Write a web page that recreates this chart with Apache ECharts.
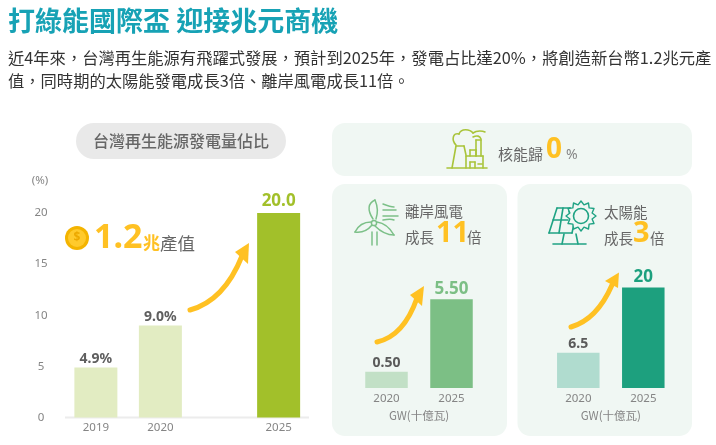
<!DOCTYPE html>
<html><head><meta charset="utf-8">
<style>html,body{margin:0;padding:0;background:#fff}#c{width:716px;height:445px}</style>
<script src="https://cdn.jsdelivr.net/npm/echarts@6/dist/echarts.min.js"></script>
</head><body><div id="c"></div>
<script>
var shareYears = ['2019', '2020', '2025'];
var shareValues = [4.9, 9.0, 20.0];
var shareLabels = ['4.9%', '9.0%', '20.0'];
var shareTicks = [0, 5, 10, 15, 20];
var windYears = ['2020', '2025'];
var windValues = [0.50, 5.50];
var windLabels = ['0.50', '5.50'];
var solarYears = ['2020', '2025'];
var solarValues = [6.5, 20];
var solarLabels = ['6.5', '20'];

var CJK = '"Noto Sans CJK TC","Noto Sans",sans-serif';
var LATIN = '"Noto Sans","Noto Sans CJK TC",sans-serif';
var ORANGE = '#ffc123', GREY = '#666666', AXIS = '#858585';
var PANEL = '#f0f7f3';

// The left chart leaves a wider gap before 2025: blank slots on a category axis.
var slotOf = { '2019': 2, '2020': 8, '2025': 19 }, slotCount = 22;
var shareAxis = [], shareData = [];
for (var s = 0; s < slotCount; s++) { shareAxis.push(''); shareData.push(null); }
shareYears.forEach(function (y, i) {
  shareAxis[slotOf[y]] = y;
  shareData[slotOf[y]] = {
    value: shareValues[i],
    itemStyle: { color: i === 2 ? '#a2c02a' : '#e2ecc2' },
    label: {
      show: true, position: 'top', formatter: shareLabels[i],
      distance: i === 2 ? 3 : 1, fontFamily: LATIN, fontWeight: 'bold',
      fontSize: i === 2 ? 17 : 14, color: i === 2 ? '#a2c02a' : '#5f5f5f'
    }
  };
});

function pairData(values, labels, light, dark) {
  return values.map(function (v, i) {
    return {
      value: v,
      itemStyle: { color: i ? dark : light },
      label: {
        show: true, position: 'top', formatter: labels[i], distance: 2,
        fontFamily: LATIN, fontWeight: 'bold',
        fontSize: i ? 17 : 14, color: i ? dark : '#5a5a5a'
      }
    };
  });
}
// The side panels' hidden axes start below zero; this fills each bar down to the axis floor.
function plinth(xi, floor, light, dark) {
  return {
    type: 'bar', xAxisIndex: xi, yAxisIndex: xi, barWidth: 42.5, barGap: '-100%', silent: true,
    data: [{ value: floor, itemStyle: { color: light } }, { value: floor, itemStyle: { color: dark } }]
  };
}
function catAxis(idx, data, name) {
  return {
    type: 'category', gridIndex: idx, data: data,
    axisLine: { show: false }, axisTick: { show: false },
    axisLabel: { color: AXIS, fontSize: 11.5, fontFamily: LATIN, margin: 5 },
    name: name, nameLocation: 'middle', nameGap: 22,
    nameTextStyle: { color: AXIS, fontSize: 11.5, fontFamily: CJK }
  };
}
function hiddenAxis(idx, min, max) {
  return { type: 'value', gridIndex: idx, min: min, max: max, show: false, splitLine: { show: false } };
}

var g = [];
function rect(x, y, w, h, r, fill) {
  g.push({ type: 'rect', z: -1, shape: { x: x, y: y, width: w, height: h, r: r }, style: { fill: fill } });
}
function text(x, y, t, font, fill, align) {
  g.push({ type: 'text', z: 5, x: x, y: y, style: { text: t, font: font, fill: fill, align: align || 'left', verticalAlign: 'middle' } });
}
// Small "M/L/C" reader that turns icon outlines into line and bezier graphics.
function strokePath(d, color, w) {
  var tok = d.match(/[MLC]|-?[\d.]+/g), i = 0, cx = 0, cy = 0, cmd = '';
  var st = { stroke: color, lineWidth: w, fill: 'none', lineCap: 'round', lineJoin: 'round' };
  function n() { return parseFloat(tok[i++]); }
  while (i < tok.length) {
    if (/[MLC]/.test(tok[i])) cmd = tok[i++];
    if (cmd === 'M') { cx = n(); cy = n(); }
    else if (cmd === 'L') {
      var x = n(), y = n();
      g.push({ type: 'line', z: 6, shape: { x1: cx, y1: cy, x2: x, y2: y }, style: st });
      cx = x; cy = y;
    } else {
      var a = n(), b = n(), c = n(), e = n(), f = n(), h = n();
      g.push({ type: 'bezierCurve', z: 6, shape: { x1: cx, y1: cy, cpx1: a, cpy1: b, cpx2: c, cpy2: e, x2: f, y2: h }, style: st });
      cx = f; cy = h;
    }
  }
}

text(8, 21, '打綠能國際盃 迎接兆元商機', 'bold 27px ' + CJK, '#17a2b5');
text(8, 58, '近4年來，台灣再生能源有飛躍式發展，預計到2025年，發電占比達20%，將創造新台幣1.2兆元產', '16.3px ' + CJK, '#333');
text(8, 81, '值，同時期的太陽能發電成長3倍、離岸風電成長11倍。', '16.3px ' + CJK, '#333');

rect(76, 123, 210, 36, 18, '#e9e9e9');
text(181, 141, '台灣再生能源發電量佔比', '500 16px ' + CJK, GREY, 'center');
text(40, 181, '(%)', '11.5px ' + LATIN, AXIS, 'center');

// panels
rect(332, 123, 360, 53, 13, PANEL);
rect(332, 184, 175, 252, 13, PANEL);
rect(517.5, 184, 174.5, 252, 13, PANEL);

// x axis line of left chart
g.push({ type: 'line', z: 1, shape: { x1: 65, y1: 417.5, x2: 309, y2: 417.5 }, style: { stroke: '#ececec', lineWidth: 2 } });

// coin and 1.2
g.push({ type: 'circle', z: 5, shape: { cx: 77, cy: 238, r: 12 }, style: { fill: '#f4b400' } });
g.push({ type: 'circle', z: 5, shape: { cx: 77, cy: 238, r: 9 }, style: { fill: '#ffca2c' } });
text(77, 238, '$', 'bold 12px ' + LATIN, '#eda900', 'center');
text(94, 238, '1.2', 'bold 34px ' + LATIN, ORANGE);
text(143, 243, '兆', 'bold 17px ' + CJK, ORANGE);
text(160, 243, '產值', '17.5px ' + CJK, GREY);

// side texts
text(498, 154, '核能歸', '15px ' + CJK, GREY);
text(546, 150, '0', 'bold 28px ' + LATIN, ORANGE);
text(566, 155, '%', '14px ' + LATIN, AXIS);
text(405, 211, '離岸風電', '14.5px ' + CJK, GREY);
text(405, 237, '成長', '14.5px ' + CJK, GREY);
text(436, 234, '11', 'bold 29px ' + LATIN, ORANGE);
text(467, 237, '倍', '14.5px ' + CJK, GREY);
text(604, 212, '太陽能', '14.5px ' + CJK, GREY);
text(604, 238, '成長', '14.5px ' + CJK, GREY);
text(633, 234, '3', 'bold 29px ' + LATIN, ORANGE);
text(650, 238, '倍', '14.5px ' + CJK, GREY);

// arrows
function curved(x1, y1, cx1, cy1, cx2, cy2, x2, y2, pts) {
  strokePath('M' + x1 + ' ' + y1 + ' C' + cx1 + ' ' + cy1 + ' ' + cx2 + ' ' + cy2 + ' ' + x2 + ' ' + y2, ORANGE, 5);
  g.push({ type: 'polygon', z: 7, shape: { points: pts }, style: { fill: ORANGE } });
}
curved(190, 310, 212, 304, 230, 286, 242, 256, [[249, 243], [235, 252], [248, 264]]);
curved(377, 342, 395, 338, 408, 324, 417, 298, [[424, 286], [410, 295], [422, 306]]);
curved(571, 327, 588, 322, 602, 308, 612, 285, [[619, 272.5], [605, 281], [618, 288]]);

// factory icon
var F = '#a9c43a';
strokePath('M447 168 L487 168 M452 168 L456 146 L464 146 L466 155 M466 168 L466 156 L483 156 L483 168 M470 168 L470 162 L475 162 L475 168 M478 164 L482 164 M470 156 L470 150 L476 150 L476 156 M476 156 L476 140 L481 140 L481 156', F, 1.6);
strokePath('M456 145 C451 140 453 132 459 134 C461 128 470 129 473 133 C477 130 483 131 485 132 M473 137 C477 135 480 136 481 139', F, 1.6);

// turbine icon
var T = '#7cc088';
strokePath('M372 232 L372 245 M377 232 L377 245', T, 1.5);
strokePath('M373 219 C367 210 368 203 375 200 C378 207 378 213 376 219', T, 1.5);
strokePath('M371 222 C364 222 358 226 355 232 C362 233 368 230 372 225', T, 1.5);
strokePath('M377 222 C384 223 390 228 394 235 C387 235 380 231 375 226', T, 1.5);
g.push({ type: 'circle', z: 6, shape: { cx: 374, cy: 223, r: 2.6 }, style: { fill: PANEL, stroke: T, lineWidth: 1.5 } });
strokePath('M383 204 C388 206 391 207 394 207 M383 210 L396 210 M383 216 L398 216 M383 220 C388 219 392 219 394 220', T, 1.5);

// solar icon
var S = '#1fa384';
strokePath('M557 208 L570 208 M549 233 L557 208 M549 233 L572 233 M553 220 L568 220 M563 208 L559 233 M572 233 L574 224 M570 208 L569 212', S, 1.6);
strokePath('M553 244 L586 244 M564 234 L562 244 M576 234 L578 244', S, 1.6);
var star = [];
for (var k = 0; k < 24; k++) {
  var a = k * Math.PI / 12, r = k % 2 ? 11.5 : 15;
  star.push([581 + r * Math.sin(a), 216 - r * Math.cos(a)]);
}
g.push({ type: 'polygon', z: 6, shape: { points: star }, style: { fill: PANEL, stroke: S, lineWidth: 1.4, lineJoin: 'round' } });
g.push({ type: 'circle', z: 6, shape: { cx: 581, cy: 216, r: 7.5 }, style: { fill: PANEL, stroke: S, lineWidth: 1.6 } });

// Chosen so that value 0 lands on a whole pixel row of each 110px-tall grid.
var WIND_FLOOR = -0.62, WIND_TOP = 6.9578;
var SOLAR_FLOOR = -0.83, SOLAR_TOP = 21.995;
var option = {
  animation: false,
  backgroundColor: '#fff',
  grid: [
    { left: 69, top: 213, width: 236.5, height: 204.5 },
    { left: 354, top: 278, width: 130, height: 110 },
    { left: 545.8, top: 278, width: 130, height: 110 }
  ],
  xAxis: [
    {
      type: 'category', gridIndex: 0, data: shareAxis,
      axisLine: { show: false }, axisTick: { show: false },
      axisLabel: { interval: 0, color: AXIS, fontSize: 11.5, fontFamily: LATIN, margin: 4 }
    },
    catAxis(1, windYears, 'GW(十億瓦)'),
    catAxis(2, solarYears, 'GW(十億瓦)')
  ],
  yAxis: [
    {
      type: 'value', gridIndex: 0, min: shareTicks[0], max: shareTicks[shareTicks.length - 1], interval: 5,
      axisLine: { show: false }, axisTick: { show: false }, splitLine: { show: false },
      axisLabel: { color: AXIS, fontSize: 11.5, fontFamily: LATIN, align: 'center', margin: 28 }
    },
    hiddenAxis(1, WIND_FLOOR, WIND_TOP),
    hiddenAxis(2, SOLAR_FLOOR, SOLAR_TOP)
  ],
  series: [
    { type: 'bar', xAxisIndex: 0, yAxisIndex: 0, barWidth: 43, data: shareData },
    { type: 'bar', xAxisIndex: 1, yAxisIndex: 1, barWidth: 42.5, barGap: '-100%',
      data: pairData(windValues, windLabels, '#c2e0c6', '#7cbf85') },
    plinth(1, WIND_FLOOR, '#c2e0c6', '#7cbf85'),
    { type: 'bar', xAxisIndex: 2, yAxisIndex: 2, barWidth: 42.5, barGap: '-100%',
      data: pairData(solarValues, solarLabels, '#b0dccf', '#1da07e') },
    plinth(2, SOLAR_FLOOR, '#b0dccf', '#1da07e')
  ],
  graphic: g
};
echarts.init(document.getElementById('c')).setOption(option);
</script></body></html>
